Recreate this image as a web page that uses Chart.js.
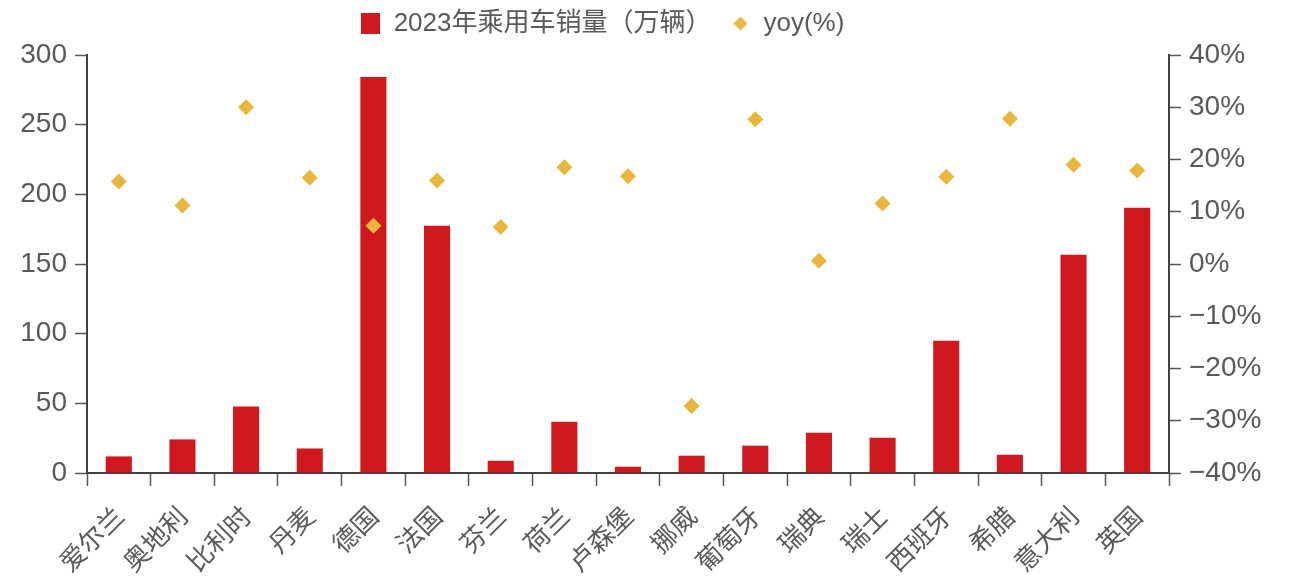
<!DOCTYPE html>
<html>
<head>
<meta charset="utf-8">
<script src="https://cdn.jsdelivr.net/npm/chart.js@4/dist/chart.umd.min.js"></script>
<style>
  html, body { margin: 0; padding: 0; background: #ffffff; }
  #c { display: block; }
</style>
</head>
<body>
<canvas id="c" width="1289" height="587"></canvas>
<script>
// 2023 passenger car sales by European country (10k units) and year-on-year change (%)
const countries = ['爱尔兰', '奥地利', '比利时', '丹麦', '德国', '法国', '芬兰', '荷兰', '卢森堡',
                   '挪威', '葡萄牙', '瑞典', '瑞士', '西班牙', '希腊', '意大利', '英国'];
const sales = [11.9, 24.1, 47.8, 17.6, 284.3, 177.4, 8.8, 36.8, 4.5,
               12.4, 19.6, 28.9, 25.3, 94.9, 13.1, 156.6, 190.3];
const yoy = [15.8, 11.2, 30.0, 16.5, 7.3, 16.0, 7.1, 18.5, 16.8,
             -27.2, 27.7, 0.6, 11.6, 16.7, 27.8, 19.0, 17.9];
const salesTicks = [0, 50, 100, 150, 200, 250, 300];
const yoyTicks = [-40, -30, -20, -10, 0, 10, 20, 30, 40];

const salesLabel = '2023年乘用车销量（万辆）';
const yoyLabel = 'yoy(%)';

const RED = '#D0181F';
const GOLD = '#E9B73C';
const TEXT = '#595959';
const AXIS = '#404040';
const FONT = '"Liberation Sans", "Noto Sans CJK SC", sans-serif';
const CJK = '"Noto Sans CJK SC", sans-serif';

// small canvases used as legend markers
function makeMarker(w, h, draw) {
  const cv = document.createElement('canvas');
  cv.width = w; cv.height = h;
  draw(cv.getContext('2d'), w, h);
  return cv;
}
const salesMarker = makeMarker(19, 21, (g, w, h) => { g.fillStyle = RED; g.fillRect(0, 0, w, h); });
const yoyMarker = makeMarker(14, 14, (g, w, h) => {
  g.fillStyle = GOLD;
  g.beginPath();
  g.moveTo(w / 2, 0); g.lineTo(w, h / 2); g.lineTo(w / 2, h); g.lineTo(0, h / 2);
  g.closePath(); g.fill();
});

// nudges the legend block to its place above the plot
const legendShift = {
  id: 'legendShift',
  afterLayout(chart) {
    const lg = chart.legend;
    if (!lg) return;
    const dx = -42, dy = -8.5;
    lg.left += dx; lg.right += dx;
    lg.top += dy; lg.bottom += dy;
  }
};

const pct = v => (v < 0 ? '\u2212' + Math.abs(v) : String(v)) + '%';

new Chart(document.getElementById('c'), {
  data: {
    labels: countries,
    datasets: [
      {
        type: 'bar',
        label: salesLabel,
        data: sales,
        backgroundColor: RED,
        borderWidth: 0,
        barPercentage: 0.41,
        categoryPercentage: 1,
        yAxisID: 'y',
        order: 1
      },
      {
        type: 'line',
        label: yoyLabel,
        data: yoy,
        showLine: false,
        pointStyle: 'rectRot',
        pointRadius: 8,
        pointHoverRadius: 8,
        pointBackgroundColor: GOLD,
        pointBorderWidth: 0,
        backgroundColor: GOLD,
        borderColor: GOLD,
        yAxisID: 'y1',
        order: 0
      }
    ]
  },
  options: {
    responsive: false,
    animation: false,
    devicePixelRatio: 1,
    layout: { padding: 0 },
    plugins: {
      tooltip: { enabled: false },
      legend: {
        display: true,
        position: 'top',
        align: 'center',
        labels: {
          usePointStyle: true,
          boxWidth: 20,
          boxHeight: 20,
          padding: 19,
          color: TEXT,
          font: { family: FONT, size: 26 },
          generateLabels: () => [
            { text: salesLabel, pointStyle: salesMarker, fillStyle: RED, strokeStyle: RED,
              lineWidth: 0, hidden: false, datasetIndex: 0, fontColor: TEXT },
            { text: yoyLabel, pointStyle: yoyMarker, fillStyle: GOLD, strokeStyle: GOLD,
              lineWidth: 0, hidden: false, datasetIndex: 1, fontColor: TEXT }
          ]
        }
      }
    },
    scales: {
      x: {
        type: 'category',
        offset: true,
        afterFit: s => { s.height = 114; },
        grid: {
          display: true,
          offset: true,
          drawOnChartArea: false,
          drawTicks: true,
          tickLength: 13,
          tickWidth: 1.5,
          tickColor: '#555555'
        },
        border: { display: true, color: AXIS, width: 2 },
        ticks: {
          autoSkip: false,
          minRotation: 45,
          maxRotation: 45,
          padding: 14,
          color: TEXT,
          font: { family: CJK, size: 26 }
        }
      },
      y: {
        type: 'linear',
        position: 'left',
        min: 0,
        max: 300,
        afterFit: s => { s.width = 87; },
        afterBuildTicks: s => { s.ticks = salesTicks.map(v => ({ value: v })); },
        grid: {
          display: true,
          drawOnChartArea: false,
          drawTicks: true,
          tickLength: 12,
          tickWidth: 1.5,
          tickColor: '#555555'
        },
        border: { display: true, color: AXIS, width: 2 },
        ticks: {
          padding: 8,
          color: TEXT,
          font: { family: FONT, size: 28 }
        }
      },
      y1: {
        type: 'linear',
        position: 'right',
        min: -40,
        max: 40,
        afterFit: s => { s.width = 120; },
        afterBuildTicks: s => { s.ticks = yoyTicks.map(v => ({ value: v })); },
        grid: {
          display: true,
          drawOnChartArea: false,
          drawTicks: true,
          tickLength: 12,
          tickWidth: 1.5,
          tickColor: '#555555'
        },
        border: { display: true, color: AXIS, width: 2 },
        ticks: {
          padding: 8,
          color: TEXT,
          font: { family: FONT, size: 28 },
          callback: v => pct(v)
        }
      }
    }
  },
  plugins: [legendShift]
});
</script>
</body>
</html>
